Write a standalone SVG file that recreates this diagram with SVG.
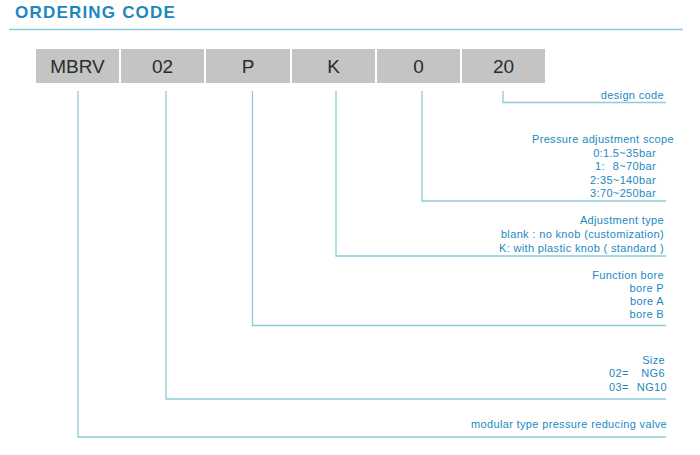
<svg xmlns="http://www.w3.org/2000/svg" width="700" height="455" viewBox="0 0 700 455">
<style>
.title{font-family:"Liberation Sans",Arial,sans-serif;font-weight:bold;font-size:17px;letter-spacing:1.2px;fill:#2186bf}
.box{fill:#c4c4c4}
.bt{font-family:"Liberation Sans",Arial,sans-serif;font-size:19px;fill:#2b2b2b;text-anchor:middle}
.lbl{font-family:"Liberation Sans",Arial,sans-serif;font-size:11px;letter-spacing:0.35px;fill:#2289bf}
.e{text-anchor:end}
.ln{fill:none;stroke:#8ecbd9;stroke-width:1.3}
</style>
<rect width="700" height="455" fill="#ffffff"/>
<text class="title" x="15" y="18">ORDERING CODE</text>
<line class="ln" x1="9" y1="29.5" x2="683" y2="29.5" stroke-width="1.6"/>
<g id="box-mbrv"><rect class="box" x="36" y="49" width="83" height="34"/><text class="bt" x="77.5" y="73">MBRV</text></g>
<g id="box-02"><rect class="box" x="121" y="49" width="83" height="34"/><text class="bt" x="162.5" y="73">02</text></g>
<g id="box-p"><rect class="box" x="206" y="49" width="84" height="34"/><text class="bt" x="248" y="73">P</text></g>
<g id="box-k"><rect class="box" x="292" y="49" width="83" height="34"/><text class="bt" x="333.5" y="73">K</text></g>
<g id="box-0"><rect class="box" x="377" y="49" width="83" height="34"/><text class="bt" x="418.5" y="73">0</text></g>
<g id="box-20"><rect class="box" x="462" y="49" width="83" height="34"/><text class="bt" x="503.5" y="73">20</text></g>
<g id="connectors">
<polyline class="ln" points="503,91 503,102.5 666,102.5"/>
<polyline class="ln" points="422,91 422,201 666,201"/>
<polyline class="ln" points="336,91 336,256 666,256"/>
<polyline class="ln" points="252.5,91 252.5,325.5 666,325.5"/>
<polyline class="ln" points="166,91 166,399 666,399"/>
<polyline class="ln" points="78,91 78,437 666,437"/>
</g>
<g id="label-design">
<text class="lbl e" x="664" y="99">design code</text>
</g>
<g id="label-pressure">
<text class="lbl e" x="674" y="143">Pressure adjustment scope</text>
<text class="lbl e" x="656" y="157">0:1.5~35bar</text>
<text class="lbl" x="595" y="170">1:</text>
<text class="lbl e" x="656" y="170">8~70bar</text>
<text class="lbl e" x="656" y="184">2:35~140bar</text>
<text class="lbl e" x="656" y="197">3:70~250bar</text>
</g>
<g id="label-adjust">
<text class="lbl e" x="664" y="224">Adjustment type</text>
<text class="lbl e" x="664" y="238">blank : no knob (customization)</text>
<text class="lbl e" x="664" y="252">K: with plastic knob ( standard )</text>
</g>
<g id="label-function">
<text class="lbl e" x="664" y="279">Function bore</text>
<text class="lbl e" x="664" y="292">bore P</text>
<text class="lbl e" x="664" y="305">bore A</text>
<text class="lbl e" x="664" y="318">bore B</text>
</g>
<g id="label-size">
<text class="lbl e" x="665" y="364">Size</text>
<text class="lbl" x="609" y="377">02=</text>
<text class="lbl e" x="665" y="377">NG6</text>
<text class="lbl" x="609" y="391">03=</text>
<text class="lbl e" x="667" y="391">NG10</text>
</g>
<g id="label-valve">
<text class="lbl e" x="667" y="428">modular type pressure reducing valve</text>
</g>
</svg>
